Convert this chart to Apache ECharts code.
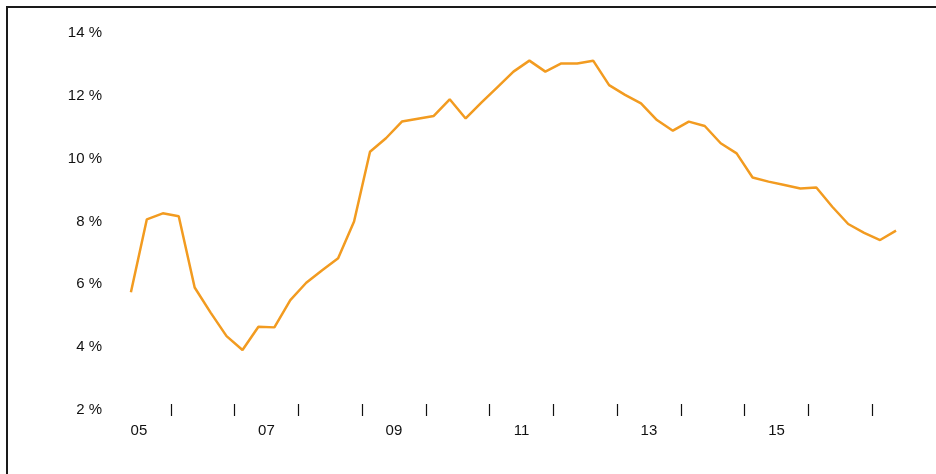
<!DOCTYPE html>
<html>
<head>
<meta charset="utf-8">
<script src="https://cdn.jsdelivr.net/npm/echarts@6/dist/echarts.min.js"></script>
<style>
html,body{margin:0;padding:0;background:#fff;}
#chart{width:936px;height:474px;}
</style>
</head>
<body>
<div id="chart"></div>
<script>
// Quarterly observations (year-quarter) and values in %
var quarters = [
  '2005Q2','2005Q3','2005Q4',
  '2006Q1','2006Q2','2006Q3','2006Q4',
  '2007Q1','2007Q2','2007Q3','2007Q4',
  '2008Q1','2008Q2','2008Q3','2008Q4',
  '2009Q1','2009Q2','2009Q3','2009Q4',
  '2010Q1','2010Q2','2010Q3','2010Q4',
  '2011Q1','2011Q2','2011Q3','2011Q4',
  '2012Q1','2012Q2','2012Q3','2012Q4',
  '2013Q1','2013Q2','2013Q3','2013Q4',
  '2014Q1','2014Q2','2014Q3','2014Q4',
  '2015Q1','2015Q2','2015Q3','2015Q4',
  '2016Q1','2016Q2','2016Q3','2016Q4',
  '2017Q1','2017Q2'
];
var values = [
  5.75, 8.07, 8.26,
  8.17, 5.90, 5.10, 4.35,
  3.91, 4.65, 4.63, 5.50,
  6.05, 6.45, 6.83, 8.00,
  10.22, 10.65, 11.18, 11.27,
  11.36, 11.89, 11.28, 11.79,
  12.28, 12.77, 13.12, 12.77,
  13.03, 13.03, 13.12, 12.34,
  12.03, 11.76, 11.23, 10.89,
  11.18, 11.04, 10.49, 10.17,
  9.40, 9.27, 9.16, 9.05,
  9.08, 8.47, 7.92, 7.64,
  7.41, 7.71
];
// Half-year points of the time axis (ticks at year starts, labels at mid-year)
var halfYears = [];
for (var y = 2005; y <= 2017; y++) { halfYears.push(y + '.0'); halfYears.push(y + '.5'); }
var labeledYears = ['05','07','09','11','13','15'];
var yTicks = [2, 4, 6, 8, 10, 12, 14];

function quarterToTime(q) {
  var yr = parseInt(q.slice(0, 4), 10);
  var qn = parseInt(q.slice(5), 10);
  return yr + (qn - 0.5) / 4;
}
var seriesData = quarters.map(function (q, i) { return [quarterToTime(q), values[i]]; });

var chart = echarts.init(document.getElementById('chart'), null, {renderer: 'canvas'});
var font = 'Liberation Sans, Arial, sans-serif';
chart.setOption({
  animation: false,
  backgroundColor: '#ffffff',
  grid: {left: 107, right: 32, top: 33, bottom: 64, containLabel: false},
  xAxis: [
    {
      type: 'category',
      data: halfYears,
      boundaryGap: false,
      position: 'bottom',
      offset: -6,
      axisLine: {show: false},
      axisTick: {
        show: true,
        length: 12,
        lineStyle: {color: '#111', width: 1.2},
        interval: function (idx) { return idx % 2 === 0 && idx > 0; }
      },
      axisLabel: {
        show: true,
        margin: 19,
        fontFamily: font,
        fontSize: 15,
        color: '#111',
        interval: function (idx, val) {
          var yy = val.slice(2, 4);
          return val.slice(-2) === '.5' && labeledYears.indexOf(yy) >= 0;
        },
        formatter: function (val) { return val.slice(2, 4); }
      },
      splitLine: {show: false}
    },
    {
      type: 'value',
      min: 2005,
      max: 2017.5,
      show: false,
      splitLine: {show: false}
    }
  ],
  yAxis: {
    type: 'value',
    min: yTicks[0],
    max: yTicks[yTicks.length - 1],
    interval: 2,
    axisLine: {show: false},
    axisTick: {show: false},
    splitLine: {show: false},
    axisLabel: {
      margin: 5,
      fontFamily: font,
      fontSize: 15,
      color: '#111',
      formatter: function (v) { return v + ' %'; }
    }
  },
  graphic: [
    {type: 'line', shape: {x1: 6, y1: 7, x2: 936, y2: 7}, style: {stroke: '#1a1a1a', lineWidth: 2}},
    {type: 'line', shape: {x1: 7, y1: 6, x2: 7, y2: 474}, style: {stroke: '#1a1a1a', lineWidth: 2}}
  ],
  series: [{
    type: 'line',
    xAxisIndex: 1,
    data: seriesData,
    showSymbol: false,
    symbol: 'none',
    lineStyle: {color: '#F29B20', width: 2.5},
    itemStyle: {color: '#F29B20'}
  }]
});
</script>
</body>
</html>
